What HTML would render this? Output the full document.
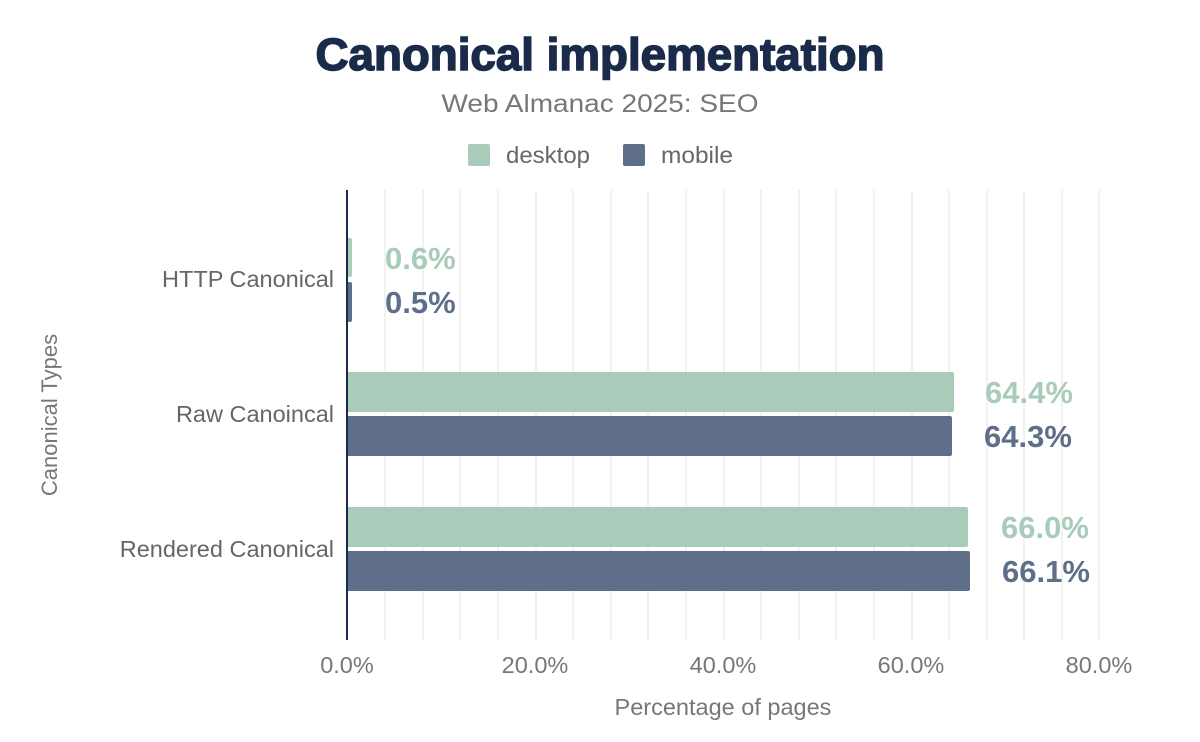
<!DOCTYPE html>
<html><head><style>
body{margin:0;background:#fff;}
svg{display:block;font-family:"Liberation Sans",sans-serif;}
</style></head><body>
<svg width="1200" height="742" viewBox="0 0 1200 742">
<text x="600" y="70" text-anchor="middle" font-size="45" font-weight="900" fill="#1a2b49" stroke="#1a2b49" stroke-width="1.5" textLength="569" lengthAdjust="spacingAndGlyphs">Canonical implementation</text>
<text x="600" y="112" text-anchor="middle" font-size="25" fill="#777" textLength="317" lengthAdjust="spacingAndGlyphs">Web Almanac 2025: SEO</text>
<rect x="468" y="144" width="22" height="22" rx="2" fill="#a8cbba"/>
<text x="506" y="163" font-size="23" fill="#666" textLength="84" lengthAdjust="spacingAndGlyphs">desktop</text>
<rect x="623" y="144" width="22" height="22" rx="2" fill="#5f6f8a"/>
<text x="661" y="163" font-size="23" fill="#666" textLength="72" lengthAdjust="spacingAndGlyphs">mobile</text>
<g stroke="#eeeeee" stroke-width="1.5">
<line x1="385" y1="190" x2="385" y2="640"/><line x1="423" y1="190" x2="423" y2="640"/>
<line x1="460" y1="190" x2="460" y2="640"/><line x1="498" y1="190" x2="498" y2="640"/>
<line x1="536" y1="190" x2="536" y2="640"/><line x1="573" y1="190" x2="573" y2="640"/>
<line x1="611" y1="190" x2="611" y2="640"/><line x1="648" y1="190" x2="648" y2="640"/>
<line x1="686" y1="190" x2="686" y2="640"/><line x1="724" y1="190" x2="724" y2="640"/>
<line x1="761" y1="190" x2="761" y2="640"/><line x1="799" y1="190" x2="799" y2="640"/>
<line x1="836" y1="190" x2="836" y2="640"/><line x1="874" y1="190" x2="874" y2="640"/>
<line x1="912" y1="190" x2="912" y2="640"/><line x1="949" y1="190" x2="949" y2="640"/>
<line x1="987" y1="190" x2="987" y2="640"/><line x1="1024" y1="190" x2="1024" y2="640"/>
<line x1="1062" y1="190" x2="1062" y2="640"/><line x1="1099" y1="190" x2="1099" y2="640"/>
</g>
<rect x="347" y="238" width="5" height="39" rx="2" fill="#a8cbba"/>
<rect x="347" y="282" width="5" height="40" rx="2" fill="#5f6f8a"/>
<rect x="347" y="372" width="607" height="40" rx="2" fill="#a8cbba"/>
<rect x="347" y="416" width="605" height="40" rx="2" fill="#5f6f8a"/>
<rect x="347" y="507" width="621" height="40" rx="2" fill="#a8cbba"/>
<rect x="347" y="551" width="623" height="40" rx="2" fill="#5f6f8a"/>
<line x1="347" y1="190" x2="347" y2="640" stroke="#1a2b49" stroke-width="2"/>
<g font-size="31" font-weight="bold">
<text x="385" y="269" fill="#a8cbba">0.6%</text>
<text x="385" y="313" fill="#5f6f8a">0.5%</text>
<text x="985" y="403" fill="#a8cbba">64.4%</text>
<text x="984" y="447" fill="#5f6f8a">64.3%</text>
<text x="1001" y="538" fill="#a8cbba">66.0%</text>
<text x="1002" y="582" fill="#5f6f8a">66.1%</text>
</g>
<g font-size="23.5" fill="#666" text-anchor="end">
<text x="334" y="287">HTTP Canonical</text>
<text x="334" y="422">Raw Canoincal</text>
<text x="334" y="557">Rendered Canonical</text>
</g>
<g font-size="23.5" fill="#777" text-anchor="middle">
<text x="347" y="673">0.0%</text>
<text x="535" y="673">20.0%</text>
<text x="723" y="673">40.0%</text>
<text x="911" y="673">60.0%</text>
<text x="1099" y="673">80.0%</text>
</g>
<text x="723" y="715" text-anchor="middle" font-size="23.5" fill="#777">Percentage of pages</text>
<text transform="translate(57,415) rotate(-90)" text-anchor="middle" font-size="22" fill="#777">Canonical Types</text>
</svg>
</body></html>
